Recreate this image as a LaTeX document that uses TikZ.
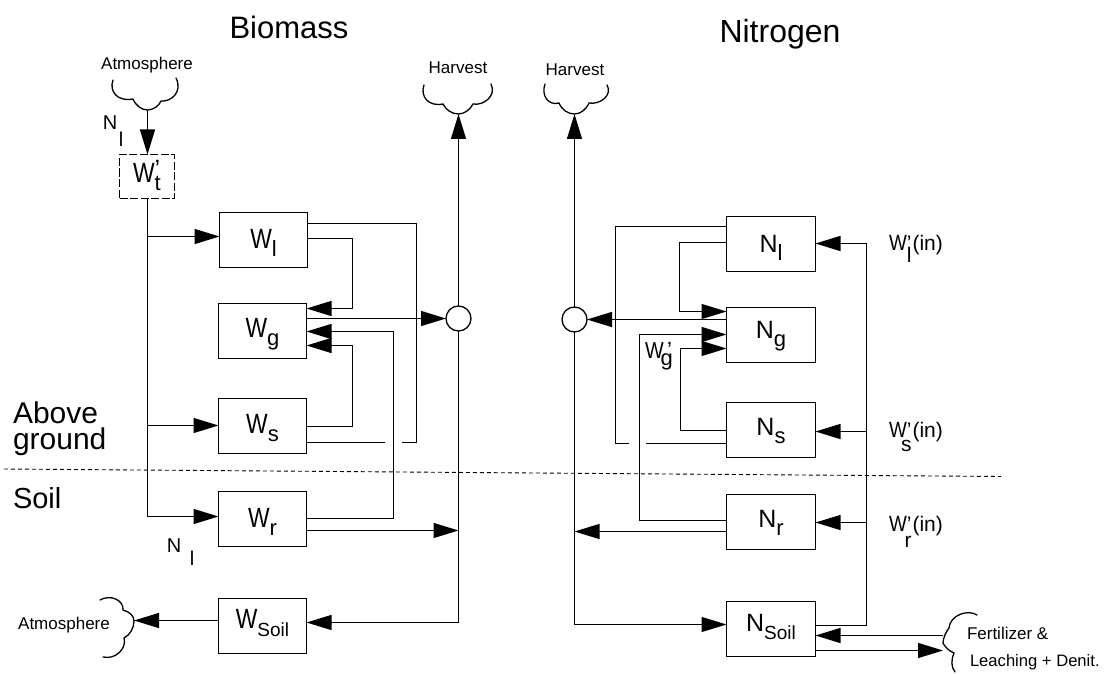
\documentclass[tikz,border=0pt]{standalone}
\usepackage{graphicx}
\usepackage{fontspec}
\setmainfont{Liberation Sans}
\usetikzlibrary{arrows.meta}
\newcommand\fsz[1]{\fontsize{#1}{#1}\selectfont}
\newcommand\Wb{\scalebox{.88}[1.07]{\fsz{26}W}}
\newcommand\subt[2]{#1\raisebox{-8pt}{\fsz{22}#2}}
\newcommand\subsoil[1]{#1\raisebox{-8pt}{\fsz{19}Soil}}
% W with a prime and a subscript tucked beneath it, followed by (in)
\newcommand\win[2]{\fsz{21}\scalebox{.9}[1.05]{W}'\hbox to 0pt{\hss\raisebox{-#2}{#1}\kern0pt}\kern1pt(in)}
\tikzset{
  x=1pt,y=-1pt,
  ln/.style={line width=1.3pt,line join=miter},
  arr/.style={ln,-{Triangle[length=25pt,width=15pt]}},
  boxn/.style={draw,line width=1.3pt,rectangle,inner sep=0pt,outer sep=0pt,minimum width=88pt,minimum height=55pt,align=center,text depth=5pt,text height=#1,font=\fsz{25}},
  circ/.style={draw,circle,line width=1.3pt,fill=white,inner sep=0pt,outer sep=0pt,minimum size=25pt},
  lab/.style={inner sep=0pt,outer sep=0pt},
  cl/.style={line width=1.3pt,line cap=round},
}
\begin{document}
\begin{tikzpicture}
\useasboundingbox[fill=white] (0,0) rectangle (1111,674);
% boxes
\node[boxn=17pt,dashed,dash pattern=on 8pt off 2.5pt,minimum width=55pt,minimum height=44pt] (wt) at (147,176.5) {\Wb\hbox to 0pt{\raisebox{5pt}{'}\hss}\raisebox{-8pt}{\fsz{22}t}};
\node[boxn=22pt] (wl) at (263.5,240) {\subt{\Wb}{l}};
\node[boxn=17pt] (wg) at (262.5,331) {\subt{\Wb}{g}};
\node[boxn=19pt] (ws) at (262.5,426) {\subt{\Wb}{s}};
\node[boxn=21pt] (wr) at (262.5,519) {\subt{\Wb}{r}};
\node[boxn=9pt] (wsoil) at (262.5,626) {\subsoil{\Wb}};
\node[boxn=21pt,minimum width=89pt] (nl) at (771,244) {\subt{N}{l}};
\node[boxn=11pt,minimum width=89pt] (ng) at (771,335) {\subt{N}{g}};
\node[boxn=15pt,minimum width=89pt] (ns) at (771,430) {\subt{N}{s}};
\node[boxn=15pt,minimum width=89pt] (nr) at (771,522) {\subt{N}{r}};
\node[boxn=9pt,minimum width=89pt] (nsoil) at (771,629) {\subsoil{N}};
\node[circ] (c1) at (458.5,318.5) {};
\node[circ] (c2) at (574.5,319.5) {};
% titles and labels
\node[lab,font=\fsz{31}] (t1) at (289,27) {Biomass};
\node[lab,font=\fsz{32}] (t2) at (780,34) {Nitrogen};
\node[lab,anchor=base west,font=\fsz{30}] (ab) at (13,423) {Above};
\node[lab,anchor=base west,font=\fsz{30}] (gr) at (13,449) {ground};
\node[lab,anchor=base west,font=\fsz{29}] (so) at (13,508) {Soil};
\node[lab,font=\fsz{17}] (a1) at (147,65) {Atmosphere};
\node[lab,font=\fsz{17}] (a2) at (64,625) {Atmosphere};
\node[lab,font=\fsz{17}] (h1) at (458,68) {Harvest};
\node[lab,font=\fsz{17}] (h2) at (575,70) {Harvest};
\node[lab,font=\fsz{20}] (n1) at (110,123) {N};
\node[lab,font=\fsz{20}] (n1s) at (121,139) {l};
\node[lab,font=\fsz{20}] (n2) at (174,546) {N};
\node[lab,font=\fsz{20}] (n2s) at (192,558) {l};
\node[lab,anchor=base west] (wgp) at (645,358) {\fsz{22}\scalebox{.9}[1.05]{W}\kern-3pt\raisebox{-7pt}{g}\hbox to 0pt{\hss\raisebox{1pt}{'}\kern1pt}};
\node[lab,anchor=base west] (wli) at (889,250) {\win{l}{12pt}};
\node[lab,anchor=base west] (wsi) at (889,437) {\win{s}{14pt}};
\node[lab,anchor=base west] (wri) at (889,531) {\win{r}{16pt}};
\node[lab,anchor=base west,font=\fsz{17}] (fe) at (967,639) {Fertilizer \&};
\node[lab,anchor=base west,font=\fsz{16.6}] (le) at (970,666) {Leaching + Denit.};
% clouds
\coordinate (tipa) at (147.5,110);
\coordinate (tiph) at (458.5,114);
\coordinate (tipi) at (574.5,114);
\coordinate (tipb) at (134,621);
\coordinate (tipf) at (943,643);
\draw[cl] (113,80) .. controls (109,91) and (117,102) .. (133,99) .. controls (136,106) and (142,110) .. (tipa) .. controls (153,110) and (159,106) .. (161,101) .. controls (171,102) and (183,92) .. (176,78);
\draw[cl] (424,85) .. controls (420,96) and (428,107) .. (443,104) .. controls (446,110) and (452,114) .. (tiph) .. controls (464,114) and (470,110) .. (473,104) .. controls (483,106) and (497,96) .. (491,84);
\draw[cl] (545,84) .. controls (541,95) and (548,106) .. (559,103) .. controls (562,110) and (568,114) .. (tipi) .. controls (580,114) and (586,110) .. (589,103) .. controls (600,105) and (613,95) .. (607,85);
\draw[cl] (100,600) .. controls (110,594) and (124,600) .. (123,610) .. controls (130,612) and (134,616) .. (tipb) .. controls (134,628) and (130,635) .. (124,638) .. controls (127,648) and (116,660) .. (103,657);
\draw[cl] (977,615) .. controls (968,609) and (950,615) .. (949,628) .. controls (946,632) and (943,638) .. (tipf) .. controls (945,647) and (949,651) .. (954,653) .. controls (951,660) and (951,667) .. (955,672);
% ground line
\coordinate (gl) at (4,469);
\coordinate (gr2) at (1001,476.5);
\draw[line width=.9pt,dash pattern=on 4pt off 3pt] (gl) -- (gr2);
% biomass connectors
\draw[arr] (tipa) -- (tipa |- wt.north);
\draw[arr] (tipa |- wt.south) |- (wr.west |- 0,516.5);
\draw[arr] (147.5,236.5) -- (wl.west |- 0,236.5);
\draw[arr] (147.5,425.5) -- (ws.west |- 0,425.5);
\draw[ln] (wl.east |- 0,223.5) -- (416.5,223.5) -- (416.5,442.5) -- (402,442.5);
\draw[ln] (ws.east |- 0,442.5) -- (385,442.5);
\draw[arr] (wl.east |- 0,238.5) -- (352.5,238.5) -- (352.5,308.5) -- (wg.east |- 0,308.5);
\draw[arr] (wg.east |- 0,318.5) -- (c1.west);
\draw[arr] (wr.east |- 0,518.5) -- (393.5,518.5) -- (393.5,331.5) -- (wg.east |- 0,331.5);
\draw[arr] (ws.east |- 0,426.5) -- (352.5,426.5) -- (352.5,345.5) -- (wg.east |- 0,345.5);
\draw[arr] (wr.east |- 0,530.5) -- (c1 |- 0,530.5);
\draw[arr] (c1.north) -- (tiph);
\draw[arr] (c1.south) |- (wsoil.east |- 0,622.5);
\draw[arr] (wsoil.west |- 0,620.5) -- (tipb |- 0,620.5);
% nitrogen connectors
\draw[arr] (c2.north) -- (tipi);
\draw[arr] (c2.south) |- (nsoil.west |- 0,624.5);
\draw[ln] (nl.west |- 0,226.5) -- (615.5,226.5) -- (615.5,443.5) -- (629,443.5);
\draw[ln] (646,443.5) -- (ns.west |- 0,443.5);
\draw[arr] (nl.west |- 0,242.5) -- (679.5,242.5) -- (679.5,311.5) -- (ng.west |- 0,311.5);
\draw[arr] (ng.west |- 0,319.5) -- (c2.east);
\draw[arr] (nr.west |- 0,520.5) -- (639.5,520.5) -- (639.5,334.5) -- (ng.west |- 0,334.5);
\draw[arr] (ns.west |- 0,430.5) -- (680.5,430.5) -- (680.5,348.5) -- (ng.west |- 0,348.5);
\draw[arr] (nr.west |- 0,531.5) -- (c2 |- 0,531.5);
\draw[arr] (nsoil.east |- 0,625.5) -- (866.5,625.5) -- (866.5,243.5) -- (nl.east |- 0,243.5);
\draw[arr] (866.5,431.5) -- (ns.east |- 0,431.5);
\draw[arr] (866.5,522.5) -- (nr.east |- 0,522.5);
\draw[arr] (tipf |- 0,635.5) -- (nsoil.east |- 0,635.5);
\draw[arr] (nsoil.east |- 0,650.5) -- (tipf |- 0,650.5);
\end{tikzpicture}
\end{document}
